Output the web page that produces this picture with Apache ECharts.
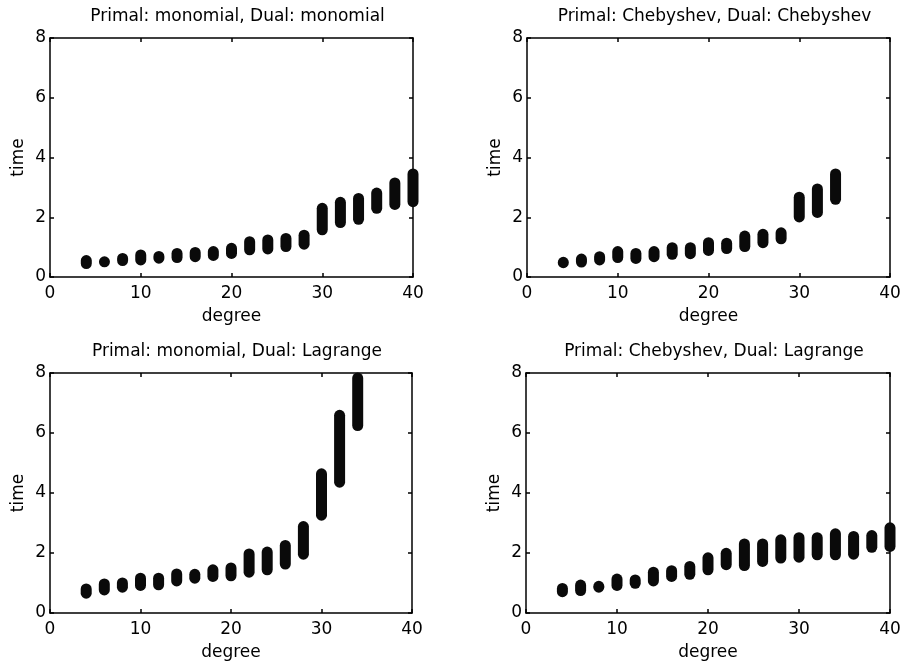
<!DOCTYPE html>
<html>
<head>
<meta charset="utf-8">
<script src="https://cdn.jsdelivr.net/npm/echarts@6/dist/echarts.min.js"></script>
<style>
html,body{margin:0;padding:0;background:#fff;}
#chart{width:904px;height:665px;}
</style>
</head>
<body>
<div id="chart"></div>
<script>
// Degrees (x values) and per-degree cluster ranges (min/max time) for each panel
const degrees = [4,6,8,10,12,14,16,18,20,22,24,26,28,30,32,34,36,38,40];

const titles = [
  'Primal: monomial, Dual: monomial',
  'Primal: Chebyshev, Dual: Chebyshev',
  'Primal: monomial, Dual: Lagrange',
  'Primal: Chebyshev, Dual: Lagrange'
];

// Panel 1: monomial / monomial
const mmLo = [0.40,0.46,0.50,0.52,0.58,0.60,0.63,0.67,0.74,0.86,0.89,0.97,1.05,1.53,1.77,1.88,2.25,2.38,2.47];
const mmHi = [0.60,0.56,0.67,0.79,0.74,0.84,0.87,0.90,1.01,1.23,1.29,1.34,1.45,2.35,2.55,2.68,2.86,3.20,3.50];
// Panel 2: Chebyshev / Chebyshev (degrees 4..34)
const ccLo = [0.43,0.45,0.52,0.60,0.57,0.63,0.71,0.73,0.84,0.90,0.97,1.10,1.23,1.96,2.11,2.55];
const ccHi = [0.54,0.65,0.73,0.90,0.84,0.90,1.03,1.03,1.20,1.18,1.42,1.48,1.53,2.72,3.00,3.50];
// Panel 3: monomial / Lagrange (degrees 4..34)
const mlLo = [0.61,0.72,0.81,0.87,0.89,1.02,1.11,1.17,1.19,1.31,1.39,1.58,1.91,3.21,4.31,6.20];
const mlHi = [0.85,1.02,1.05,1.21,1.21,1.35,1.34,1.49,1.55,2.02,2.08,2.30,2.93,4.69,6.64,7.88];
// Panel 4: Chebyshev / Lagrange
const clLo = [0.66,0.70,0.81,0.87,0.94,1.02,1.17,1.24,1.39,1.56,1.53,1.67,1.78,1.81,1.89,1.89,1.91,2.14,2.17];
const clHi = [0.87,0.98,0.94,1.18,1.15,1.41,1.46,1.60,1.89,2.04,2.35,2.35,2.49,2.56,2.56,2.69,2.60,2.63,2.89];

const xTicks = [0,10,20,30,40];
const yTicks = [0,2,4,6,8];

const panels = [
  {lo: mmLo, hi: mmHi},
  {lo: ccLo, hi: ccHi},
  {lo: mlLo, hi: mlHi},
  {lo: clLo, hi: clHi}
];

const grids = [
  {left: 50, top: 38, width: 363, height: 239},
  {left: 527, top: 38, width: 363, height: 239},
  {left: 50, top: 373, width: 362, height: 240},
  {left: 526, top: 373, width: 364, height: 240}
];

const FONT = '"DejaVu Sans", "Liberation Sans", Arial, sans-serif';
const lineStyle = {color: '#000', width: 1.5};

const option = {
  backgroundColor: '#fff',
  animation: false,
  title: [],
  grid: [],
  xAxis: [],
  yAxis: [],
  series: []
};

grids.forEach((g, i) => {
  option.grid.push(Object.assign({containLabel: false, show: false}, g));
  option.title.push({
    text: titles[i],
    left: g.left + g.width / 2 + 1,
    top: g.top - 35,
    textAlign: 'center',
    textStyle: {fontFamily: FONT, fontSize: 17, fontWeight: 'normal', color: '#000'}
  });
  const xBase = {
    type: 'value', gridIndex: i, min: xTicks[0], max: xTicks[xTicks.length - 1], interval: 10,
    axisLine: {show: true, onZero: false, lineStyle: lineStyle},
    axisTick: {show: true, inside: true, length: 4, lineStyle: lineStyle},
    splitLine: {show: false}
  };
  option.xAxis.push(Object.assign({}, xBase, {
    position: 'bottom',
    name: 'degree', nameLocation: 'middle', nameGap: 31,
    nameTextStyle: {fontFamily: FONT, fontSize: 17, color: '#000'},
    axisLabel: {show: true, margin: 8, fontFamily: FONT, fontSize: 17, color: '#000'}
  }));
  option.xAxis.push(Object.assign({}, xBase, {
    position: 'top', axisLabel: {show: false}
  }));
  const yBase = {
    type: 'value', gridIndex: i, min: yTicks[0], max: yTicks[yTicks.length - 1], interval: 2,
    axisLine: {show: true, onZero: false, lineStyle: lineStyle},
    axisTick: {show: true, inside: true, length: 4, lineStyle: lineStyle},
    splitLine: {show: false}
  };
  option.yAxis.push(Object.assign({}, yBase, {
    position: 'left',
    name: 'time', nameLocation: 'middle', nameGap: 23,
    nameTextStyle: {fontFamily: FONT, fontSize: 17, color: '#000'},
    axisLabel: {show: true, margin: 4, fontFamily: FONT, fontSize: 17, color: '#000'}
  }));
  option.yAxis.push(Object.assign({}, yBase, {
    position: 'right', axisLabel: {show: false}
  }));

  const p = panels[i];
  const data = p.lo.map((lo, k) => [degrees[k], lo, p.hi[k]]);
  option.series.push({
    type: 'custom',
    xAxisIndex: i * 2,
    yAxisIndex: i * 2,
    clip: false,
    encode: {x: 0, y: [1, 2]},
    data: data,
    renderItem: function (params, api) {
      const x = api.value(0), lo = api.value(1), hi = api.value(2);
      const pt = api.coord([x, hi]);
      const pb = api.coord([x, lo]);
      const w = 11, ext = 4;
      return {
        type: 'rect',
        shape: {x: pt[0] - w / 2, y: pt[1] - ext, width: w, height: pb[1] - pt[1] + 2 * ext, r: w / 2},
        style: {fill: '#0a0a0a'}
      };
    }
  });
});

const chart = echarts.init(document.getElementById('chart'), null, {renderer: 'canvas'});
chart.setOption(option);
</script>
</body>
</html>
